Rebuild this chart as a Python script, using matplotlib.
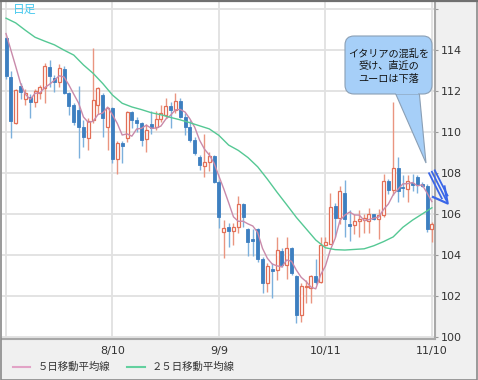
import matplotlib
matplotlib.use("Agg")
import matplotlib.pyplot as plt
import numpy as np
import pandas as pd
from matplotlib.patches import Rectangle, FancyBboxPatch, Polygon
from matplotlib.lines import Line2D

plt.rcParams['font.family'] = ['Noto Sans CJK JP', 'DejaVu Sans']

# ---------------- data ----------------
opens = [114.57, 112.70, 110.45, 112.24, 111.60, 111.72, 111.48, 111.90, 112.13, 113.19,
         112.61, 112.45, 113.07, 111.89, 111.32, 111.07, 110.26, 109.69, 110.59, 111.32,
         111.80, 110.23, 111.15, 108.67, 109.48, 109.69, 110.95, 110.59, 110.45, 109.64,
         110.40, 110.26, 110.62, 110.83, 111.27, 111.05, 111.53, 110.72, 110.26, 109.63,
         108.79, 108.36, 108.55, 108.83, 107.58, 105.14, 105.38, 105.19, 105.36, 106.49,
         105.25, 104.77, 105.25, 103.79, 102.62, 103.33, 103.27, 104.21, 103.51, 104.33,
         102.95, 101.07, 102.42, 102.38, 102.98, 102.70, 104.49, 104.55, 106.41, 105.81,
         107.03, 105.50, 105.46, 105.66, 105.69, 105.66, 105.98, 105.77, 105.93, 107.59,
         107.15, 108.24, 107.32, 107.24, 107.47, 107.80, 107.47, 107.37, 105.26]
highs = [114.62, 112.95, 112.10, 112.37, 112.10, 111.85, 112.10, 112.30, 113.35, 113.51,
         112.78, 113.30, 113.20, 111.97, 111.40, 112.24, 110.59, 110.70, 114.08, 112.20,
         111.89, 111.20, 111.20, 109.55, 109.58, 111.00, 111.00, 110.72, 110.50, 110.40,
         111.00, 111.00, 111.32, 111.64, 111.48, 111.89, 111.64, 110.94, 110.59, 109.76,
         108.87, 109.90, 109.04, 108.88, 107.66, 105.70, 105.58, 105.58, 106.88, 106.52,
         105.30, 105.25, 105.30, 103.92, 103.60, 103.62, 104.89, 104.33, 104.86, 104.40,
         103.02, 102.62, 102.78, 103.02, 103.82, 104.89, 104.89, 107.03, 106.52, 107.34,
         107.65, 106.19, 106.02, 106.19, 106.02, 106.31, 106.02, 106.22, 107.96, 107.72,
         111.48, 108.78, 107.88, 107.90, 107.96, 107.90, 107.56, 107.48, 105.61]
lows = [112.60, 109.70, 110.40, 111.59, 111.30, 110.67, 111.20, 111.60, 111.40, 112.18,
        111.97, 112.20, 111.85, 110.83, 110.34, 108.71, 109.29, 109.13, 110.42, 110.90,
        109.74, 109.10, 108.47, 107.95, 108.50, 109.50, 110.18, 110.00, 109.32, 109.03,
        109.90, 110.10, 110.50, 110.67, 110.18, 110.91, 110.67, 109.85, 109.53, 108.87,
        108.15, 107.82, 108.11, 107.50, 105.30, 103.84, 104.41, 104.50, 105.06, 105.38,
        103.95, 103.95, 103.67, 102.13, 102.21, 101.89, 102.78, 103.43, 102.81, 103.00,
        100.67, 100.75, 101.64, 101.64, 102.60, 102.62, 104.44, 104.52, 104.89, 105.53,
        104.89, 104.70, 105.01, 104.86, 105.06, 105.06, 105.69, 104.76, 105.86, 106.95,
        106.93, 106.60, 106.84, 106.60, 107.12, 107.03, 107.32, 105.12, 104.63]
closes = [112.73, 110.55, 112.05, 111.97, 111.90, 111.48, 112.01, 112.20, 113.22, 112.73,
          112.45, 113.11, 111.89, 111.27, 110.50, 110.26, 109.74, 110.55, 111.56, 112.13,
          110.67, 111.15, 108.66, 109.45, 109.32, 110.95, 110.59, 110.42, 109.60, 110.10,
          110.20, 110.62, 110.91, 111.29, 111.05, 111.53, 110.72, 110.26, 109.63, 108.99,
          108.39, 108.55, 108.83, 107.58, 105.84, 105.30, 105.19, 105.38, 106.49, 105.87,
          104.65, 104.67, 103.79, 102.62, 103.46, 103.24, 104.24, 103.51, 104.33, 103.14,
          101.07, 102.49, 102.49, 102.98, 102.70, 104.49, 104.65, 106.36, 105.81, 107.11,
          105.77, 105.41, 105.66, 105.77, 105.80, 105.98, 105.77, 105.93, 107.59, 107.15,
          108.24, 107.12, 107.25, 107.63, 107.43, 107.43, 107.37, 105.26, 105.53]
# closes of the 4 sessions before the first candle (needed for the 5-day average)
pre_closes = [114.55, 116.05, 116.10, 114.57]

# 25-day moving average, every 2 sessions
ma25_idx = list(range(0, 89, 2))
ma25_vals = [115.55, 115.32, 114.96, 114.62, 114.43, 114.25, 113.99, 113.75, 113.27, 112.86,
             112.36, 111.80, 111.40, 111.22, 111.09, 110.94, 110.84, 110.71, 110.59, 110.45,
             110.30, 110.15, 109.83, 109.36, 109.10, 108.75, 108.30, 107.70, 107.06, 106.45,
             105.83, 105.28, 104.73, 104.35, 104.26, 104.24, 104.27, 104.30, 104.45, 104.65,
             104.88, 105.35, 105.70, 106.00, 106.30]

tick_pos = [0, 22, 44, 66, 88]
tick_labels = ['', '8/10', '9/9', '10/11', '11/10']
y_ticks = [100, 102, 104, 106, 108, 110, 112, 114, 116]
y_labels = ['100', '102', '104', '106', '108', '110', '112', '114', '']

legend_labels = ['５日移動平均線', '２５日移動平均線']
note_text = 'イタリアの混乱を\n受け、直近の\nユーロは下落'
corner_text = '日足'

# ---------------- figure ----------------
W, H = 478, 380
fig = plt.figure(figsize=(W / 100, H / 100), dpi=100)
fig.patch.set_facecolor('#f0f0f0')

ax = fig.add_axes([2 / W, 1 - 339 / H, (435 - 2) / W, (339 - 2) / H])
ax.set_facecolor('white')

n = len(closes)
idx = np.arange(n)
o = np.array(opens); c = np.array(closes); h = np.array(highs); l = np.array(lows)
up = c >= o

red_edge = '#e26f57'
red_wick = '#ea9580'
blue_body = '#3d7fc0'
blue_wick = '#7cb0dc'

ax.vlines(idx[up], l[up], h[up], color=red_wick, lw=1.0, zorder=3)
ax.vlines(idx[~up], l[~up], h[~up], color=blue_wick, lw=1.0, zorder=3)
bw = 0.62
bot = np.minimum(o, c)
hgt = np.maximum(np.abs(c - o), 0.06)
ax.bar(idx[up], hgt[up], bottom=bot[up], width=bw, facecolor='white',
       edgecolor=red_edge, linewidth=0.9, zorder=4)
ax.bar(idx[~up], hgt[~up], bottom=bot[~up], width=bw, facecolor=blue_body,
       edgecolor=blue_body, linewidth=0.6, zorder=4)

# moving averages
all_closes = pd.Series(pre_closes + closes)
ma5 = all_closes.rolling(5).mean().to_numpy()[len(pre_closes):]
ax.plot(idx, ma5, color='#c98aaa', lw=1.0, zorder=5)
ax.plot(ma25_idx, ma25_vals, color='#55c894', lw=1.0, zorder=5)

ax.set_xlim(-0.83, 88.64)
ax.set_ylim(99.9, 116.34)
ax.set_xticks(tick_pos)
ax.set_xticklabels(tick_labels, fontsize=8, color='#333333', family='DejaVu Sans')
ax.set_yticks(y_ticks)
ax.set_yticklabels(y_labels, fontsize=8, color='#333333', family='DejaVu Sans')
ax.yaxis.tick_right()
ax.tick_params(axis='y', length=2, pad=2, color='#999999')
ax.tick_params(axis='x', length=0, pad=5)
ax.grid(True, color='#e1e1e1', lw=1.3, zorder=0)
ax.set_axisbelow(True)
for s in ['top', 'left']:
    ax.spines[s].set_visible(False)
for s in ['right', 'bottom']:
    ax.spines[s].set_color('#a8a8a8')
    ax.spines[s].set_linewidth(1.5)

# ---------------- overlay in pixel coordinates ----------------
ov = fig.add_axes([0, 0, 1, 1], zorder=10)
ov.set_xlim(0, W)
ov.set_ylim(H, 0)
ov.axis('off')
ov.patch.set_alpha(0)

# outer frame
ov.add_patch(Rectangle((0.5, 0.5), W - 1, H - 1, fill=False, ec='#8a8a8a', lw=1.2))
ov.plot([0, W], [0.8, 0.8], color='#707070', lw=1.6)

ov.text(13, 9, corner_text, fontsize=8.5, color='#45c8ee', va='center', ha='left')

# callout bubble
bubble_fc = '#a6cff8'
bubble_ec = '#8a9fb5'
ov.add_patch(Polygon([(394, 90), (419, 90), (426, 163)], closed=True,
                     fc=bubble_fc, ec=bubble_ec, lw=0.8, zorder=1))
ov.add_patch(FancyBboxPatch((345, 36), 87, 58, boxstyle='round,pad=0,rounding_size=9',
                            fc=bubble_fc, ec=bubble_ec, lw=0.8, zorder=2))
ov.add_patch(Rectangle((396, 86), 22, 8, fc=bubble_fc, ec='none', zorder=3))
ov.text(388.5, 66, note_text, fontsize=7.3, color='#111111', ha='center', va='center',
        linespacing=1.3, zorder=4)

# blue triple arrow
ac = '#3a66e8'
d = np.array([16.0, 31.6]); d /= np.linalg.norm(d)
perp = np.array([d[1], -d[0]])
start = np.array([431.5, 171.0])
for k, ln in zip([-3.2, 0.0, 3.2], [30, 33, 30]):
    p0 = start + perp * k
    p1 = p0 + d * ln
    ov.plot([p0[0], p1[0]], [p0[1], p1[1]], color=ac, lw=1.3, solid_capstyle='butt')
tip = np.array([447.7, 203.5])
ov.plot([433.0, tip[0], 444.5], [197.0, tip[1], 186.5], color=ac, lw=1.6)

# legend
ov.add_line(Line2D([13, 30], [367, 367], color='#e2a3c6', lw=1.5))
ov.text(38, 367, legend_labels[0], fontsize=7.5, color='#333333', va='center', ha='left')
ov.add_line(Line2D([127, 145], [367, 367], color='#62d09e', lw=1.5))
ov.text(152, 367, legend_labels[1], fontsize=7.5, color='#333333', va='center', ha='left')

fig.savefig('out.png', dpi=100, facecolor=fig.get_facecolor())
